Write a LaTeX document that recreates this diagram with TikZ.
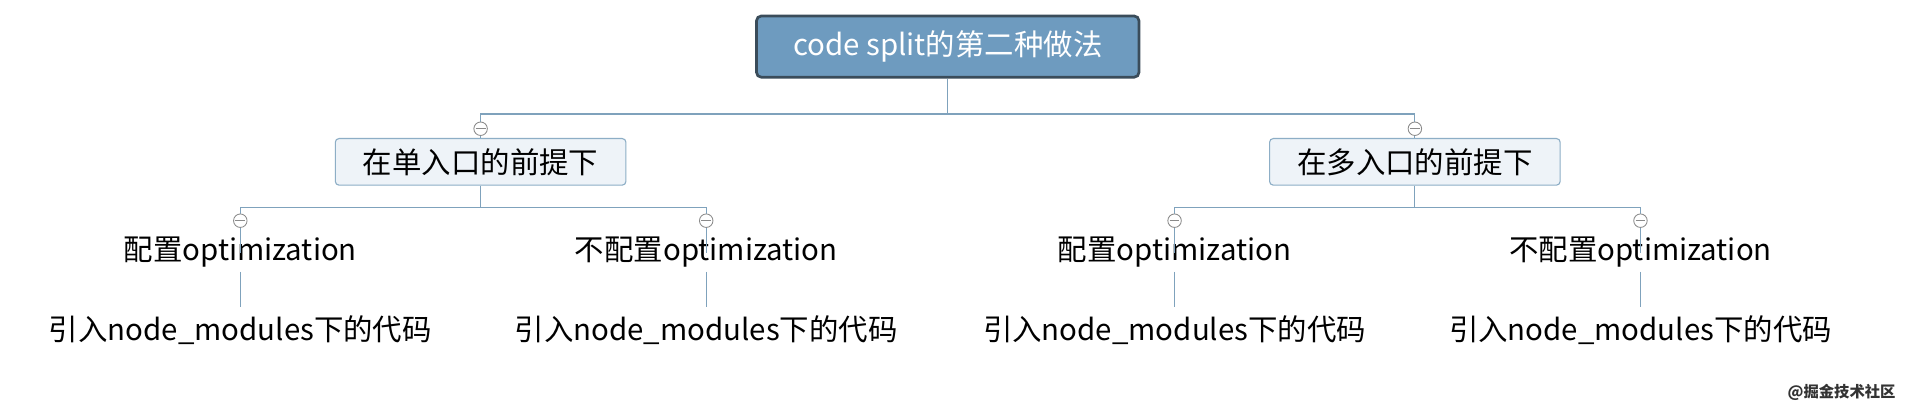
\documentclass[tikz,border=0pt]{standalone}
\usepackage{fontspec}
\newfontfamily\cjk{Noto Sans CJK SC}
\definecolor{rootfill}{HTML}{6E9BBF}
\definecolor{rootdraw}{HTML}{3A4C5A}
\definecolor{subfill}{HTML}{EEF3F8}
\definecolor{subdraw}{HTML}{8DAEC6}
\definecolor{linec}{HTML}{7FA2BC}
\definecolor{circc}{HTML}{8A8A8A}
\tikzset{
  txt/.style={font=\cjk\fontsize{24}{28}\selectfont, inner sep=0pt, text=black, text height=18pt, text depth=5pt},
  rootbox/.style={draw=rootdraw, line width=2.2pt, fill=rootfill, rounded corners=4pt,
    minimum width=312pt, minimum height=50pt, font=\cjk\fontsize{24}{28}\selectfont, text=white},
  subbox/.style={draw=subdraw, line width=0.9pt, fill=subfill, rounded corners=3pt,
    minimum width=237pt, minimum height=38pt, font=\cjk\fontsize{24}{28}\selectfont, text=black},
  conn/.style={draw=linec, line width=0.9pt},
  fold/.style={circle, draw=circc, fill=white, line width=0.7pt, minimum size=11pt, inner sep=0pt,
    path picture={\draw[circc, line width=0.7pt] ([xshift=-4pt]path picture bounding box.center) -- ([xshift=4pt]path picture bounding box.center);}},
}
\begin{document}
\begin{tikzpicture}[x=1pt,y=-1pt]
\useasboundingbox (0,0) rectangle (1566,335.2);
\fill[white] (0,0) rectangle (1566,335.2);
% root
\node[rootbox] (root) at (773,38) {code split的第二种做法};
% level 2
\node[subbox] (a) at (392,132) {在单入口的前提下};
\node[subbox] (b) at (1154,132) {在多入口的前提下};
% level 3
\node[txt] (a1) at (196,206) {配置optimization};
\node[txt] (a2) at (576,206) {不配置optimization};
\node[txt] (b1) at (958,206) {配置optimization};
\node[txt] (b2) at (1338,206) {不配置optimization};
% level 4
\node[txt] (a1c) at (196,271) {引入node\_modules下的代码};
\node[txt] (a2c) at (576,271) {引入node\_modules下的代码};
\node[txt] (b1c) at (958,271) {引入node\_modules下的代码};
\node[txt] (b2c) at (1338,271) {引入node\_modules下的代码};
% junction coordinates
\coordinate (j0) at (773,93);
\coordinate (ja) at (392,169);
\coordinate (jb) at (1154,169);
% connectors
\draw[conn] (root.south) -- (j0);
\draw[conn] (a.north) -- (a.north |- j0) -- (b.north |- j0) -- (b.north);
\draw[conn] (a.south) -- (ja);
\draw[conn] ([yshift=-12pt]a1.north) -- (a1.north |- ja) -- (a2.north |- ja) -- ([yshift=-12pt]a2.north);
\draw[conn] (b.south) -- (jb);
\draw[conn] ([yshift=-12pt]b1.north) -- (b1.north |- jb) -- (b2.north |- jb) -- ([yshift=-12pt]b2.north);
\draw[conn] ([yshift=-4pt]a1.south) -- ([yshift=9pt]a1c.north);
\draw[conn] ([yshift=-4pt]a2.south) -- ([yshift=9pt]a2c.north);
\draw[conn] ([yshift=-4pt]b1.south) -- ([yshift=9pt]b1c.north);
\draw[conn] ([yshift=-4pt]b2.south) -- ([yshift=9pt]b2c.north);
% fold markers
\node[fold] (fa) at (392,105) {};
\node[fold] (fb) at (1154,105) {};
\node[fold] (fa1) at (196,180) {};
\node[fold] (fa2) at (576,180) {};
\node[fold] (fb1) at (958,180) {};
\node[fold] (fb2) at (1338,180) {};
% watermark
\node[font=\cjk\fontsize{12.5}{15}\selectfont\bfseries, text=black!80, inner sep=0pt] (wm) at (1502,320) {@掘金技术社区};
\end{tikzpicture}
\end{document}
